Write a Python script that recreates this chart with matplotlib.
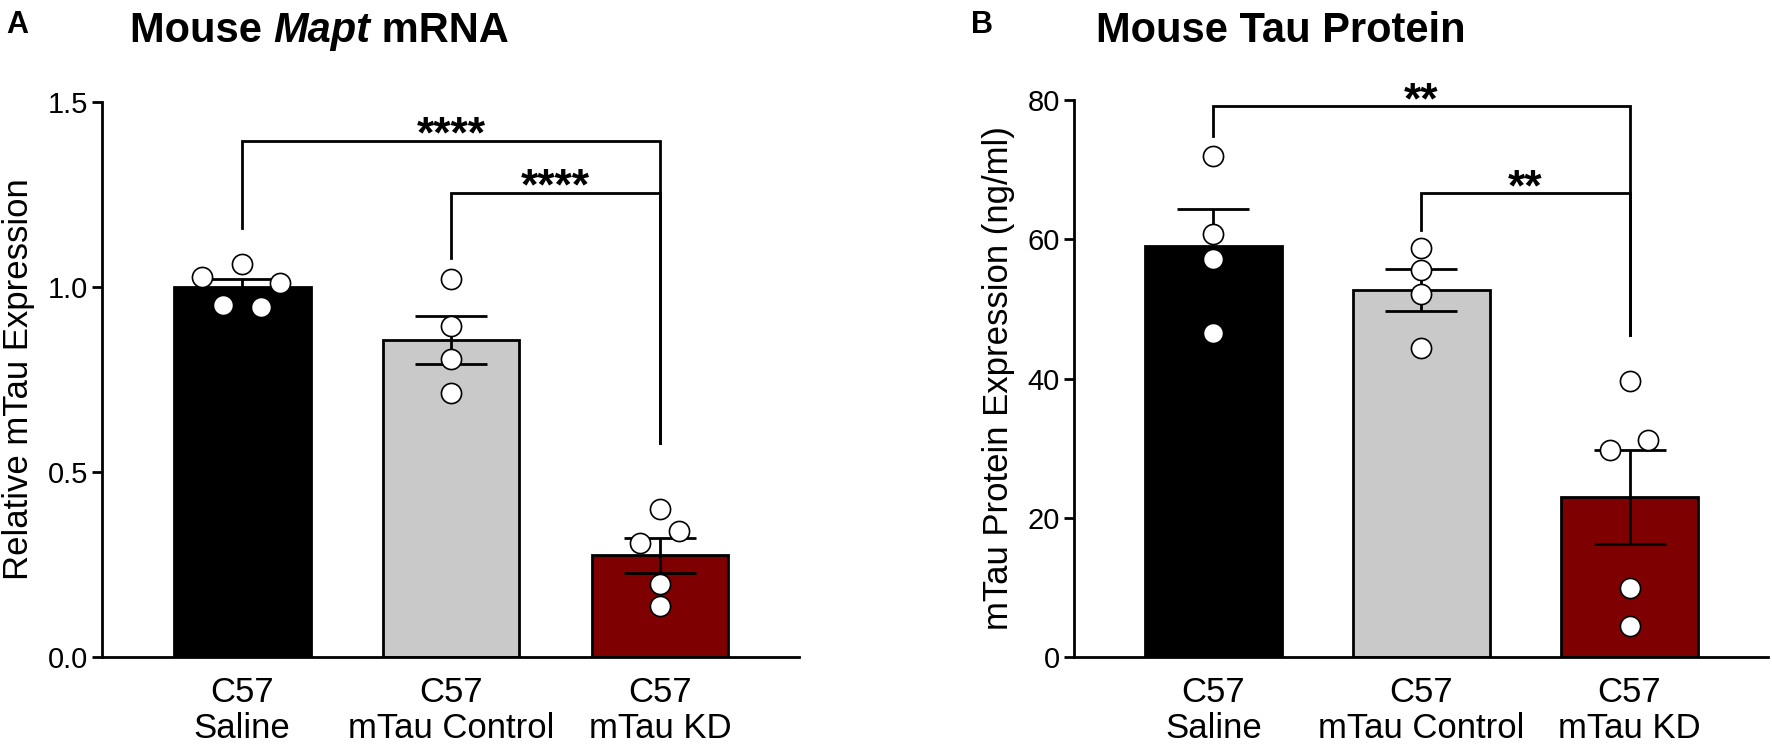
import matplotlib
matplotlib.use("Agg")
import matplotlib.pyplot as plt

plt.rcParams['font.family'] = ['Liberation Sans', 'DejaVu Sans']

groups = ["C57\nSaline", "C57\nmTau Control", "C57\nmTau KD"]
colors = ["#000000", "#c9c9c9", "#7f0000"]

# panel A: relative Mapt mRNA
mrna_mean = [1.0, 0.857, 0.275]
mrna_sem = [0.022, 0.066, 0.048]
mrna_points = [
    [1.062, 1.028, 1.012, 0.951, 0.946],
    [1.022, 0.895, 0.806, 0.713],
    [0.400, 0.341, 0.308, 0.197, 0.139],
]
mrna_jitter = [
    [0.0, -0.19, 0.18, -0.09, 0.09],
    [0.0, 0.0, 0.0, 0.0],
    [0.0, 0.09, -0.095, 0.0, 0.0],
]
# comparisons: (from, to, bar height, left end, right end, label)
mrna_sig = [
    (0, 2, 1.395, 1.159, 0.578, "****"),
    (1, 2, 1.255, 1.078, 0.578, "****"),
]

# panel B: mouse tau protein
prot_mean = [59.1, 52.7, 23.0]
prot_sem = [5.3, 3.0, 6.8]
prot_points = [
    [71.9, 60.7, 57.2, 46.5],
    [58.7, 55.6, 52.2, 44.4],
    [39.6, 31.2, 29.7, 9.9, 4.5],
]
prot_jitter = [
    [0.0, 0.0, 0.0, 0.0],
    [0.0, 0.0, 0.0, 0.0],
    [0.0, 0.09, -0.095, 0.0, 0.0],
]
prot_sig = [
    (0, 2, 79.1, 74.9, 46.3, "**"),
    (1, 2, 66.6, 61.4, 46.3, "**"),
]

LW = 2.0


def draw_panel(ax, means, sems, points, jitter, sig, ymax, yticks, ylabel):
    x = range(len(groups))
    ax.bar(x, means, width=0.655, color=colors, edgecolor='black', linewidth=LW, zorder=1)
    ax.errorbar(x, means, yerr=sems, fmt='none', ecolor='black', elinewidth=LW,
                capsize=26, capthick=LW, zorder=2)
    for i, vals in enumerate(points):
        xs = [i + j for j in jitter[i]]
        ax.scatter(xs, vals, s=210, facecolor='white', edgecolor='black',
                   linewidth=1.2, zorder=3, clip_on=False)
    for a, b, h, lo_a, lo_b, lab in sig:
        ax.plot([a, a, b, b], [lo_a, h, h, lo_b], color='black', lw=LW,
                clip_on=False, zorder=4, solid_joinstyle='miter')
        ax.annotate(lab, xy=((a + b) / 2, h), xytext=(0, -5), textcoords='offset points',
                    ha='center', va='baseline', fontsize=32, fontweight='bold',
                    annotation_clip=False)
    ax.set_xlim(-0.67, 2.665)
    ax.set_ylim(0, ymax)
    ax.set_yticks(yticks)
    ax.set_xticks(list(x))
    ax.set_xticklabels(groups, fontsize=25, linespacing=1.1)
    ax.tick_params(axis='x', length=0, pad=14)
    ax.tick_params(axis='y', length=7, width=LW, labelsize=21, pad=3)
    for s in ['top', 'right']:
        ax.spines[s].set_visible(False)
    for s in ['left', 'bottom']:
        ax.spines[s].set_linewidth(LW)
    ax.set_ylabel(ylabel, fontsize=25, labelpad=9)


fig = plt.figure(figsize=(17.72, 7.49), dpi=100)
ax_a = fig.add_axes([0.0576, 0.1228, 0.3933, 0.7410])
ax_b = fig.add_axes([0.6061, 0.1228, 0.3916, 0.7437])

draw_panel(ax_a, mrna_mean, mrna_sem, mrna_points, mrna_jitter, mrna_sig,
           1.5, [0.0, 0.5, 1.0, 1.5], "Relative mTau Expression")
ax_a.set_yticklabels(["0.0", "0.5", "1.0", "1.5"])
draw_panel(ax_b, prot_mean, prot_sem, prot_points, prot_jitter, prot_sig,
           80, [0, 20, 40, 60, 80], "mTau Protein Expression (ng/ml)")

# panel letters and titles
fig.text(6 / 1772, 1 - 33 / 749, "A", fontsize=22, fontweight='bold', va='baseline')
fig.text(971 / 1772, 1 - 33 / 749, "B", fontsize=22, fontweight='bold', va='baseline')

t1 = fig.text(130 / 1772, 1 - 42 / 749, "Mouse ", fontsize=30, fontweight='bold', va='baseline')
t2 = ax_a.annotate("Mapt", xy=(1, 0), xycoords=t1, fontsize=30, fontweight='bold',
                   style='italic', va='bottom', ha='left', annotation_clip=False)
ax_a.annotate(" mRNA", xy=(1, 0), xycoords=t2, fontsize=30, fontweight='bold',
              va='bottom', ha='left', annotation_clip=False)
fig.text(1096 / 1772, 1 - 42 / 749, "Mouse Tau Protein", fontsize=30, fontweight='bold',
         va='baseline')

fig.savefig("out.png", dpi=100)
